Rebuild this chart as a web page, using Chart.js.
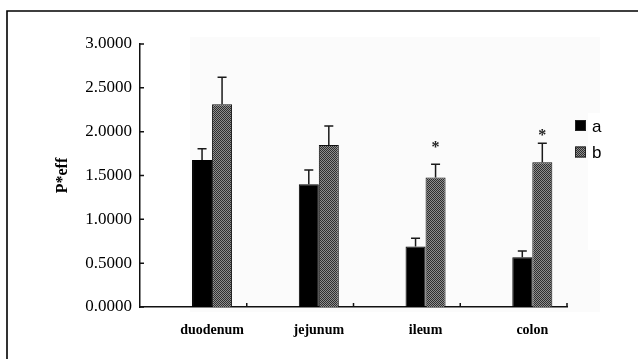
<!DOCTYPE html>
<html><head><meta charset="utf-8">
<script src="https://cdn.jsdelivr.net/npm/chart.js@4.4.1/dist/chart.umd.min.js"></script>
<style>html,body{margin:0;padding:0;background:#fff;}#wrap{width:638px;height:359px;position:relative}</style>
</head><body><div id="wrap"><canvas id="c" width="638" height="359"></canvas></div>
<script>
const categories = ['duodenum', 'jejunum', 'ileum', 'colon'];
const seriesNames = ['a', 'b'];
const valuesA = [1.678, 1.400, 0.689, 0.567];
const valuesB = [2.314, 1.849, 1.476, 1.652];
const errorsA = [0.126, 0.164, 0.095, 0.072];
const errorsB = [0.308, 0.217, 0.153, 0.217];
const starLevels = [null, null, 1.86, 2.0];
const yTicks = [0, 0.5, 1.0, 1.5, 2.0, 2.5, 3.0];

const canvas = document.getElementById('c');
const mainCtx = canvas.getContext('2d');
function makePattern() {
  const p = document.createElement('canvas');
  p.width = 2; p.height = 2;
  const g = p.getContext('2d');
  g.fillStyle = '#8e8e8e'; g.fillRect(0, 0, 2, 2);
  g.fillStyle = '#2e2e2e'; g.fillRect(0, 0, 1, 1); g.fillRect(1, 1, 1, 1);
  return mainCtx.createPattern(p, 'repeat');
}
const hatch = makePattern();
const SHIFT_FRAC = 0.175;

const framePlugin = {
  id: 'frame',
  beforeDraw(chart) {
    const ctx = chart.ctx, a = chart.chartArea;
    ctx.save();
    ctx.fillStyle = '#fff';
    ctx.fillRect(0, 0, chart.width, chart.height);
    ctx.fillStyle = '#fbfbfb';
    ctx.fillRect(a.left + 50, a.top - 7, a.right - a.left - 17, a.bottom - a.top + 12);
    ctx.fillStyle = '#fff';
    ctx.fillRect(a.right + 21, a.top + 69, 15, 137);
    ctx.strokeStyle = '#000';
    ctx.lineWidth = 1.6;
    ctx.beginPath();
    ctx.moveTo(7, chart.height);
    ctx.lineTo(7, 11);
    ctx.lineTo(chart.width, 11);
    ctx.stroke();
    ctx.restore();
  }
};

const shiftPlugin = {
  id: 'shift',
  afterDatasetsUpdate(chart) {
    const xs = chart.scales.x;
    const dx = xs.width / categories.length * SHIFT_FRAC;
    chart.data.datasets.forEach((d, i) => {
      chart.getDatasetMeta(i).data.forEach(el => { el.x += dx; });
    });
  }
};

const errPlugin = {
  id: 'err',
  afterDatasetsDraw(chart) {
    const ctx = chart.ctx, xs = chart.scales.x, ys = chart.scales.y, a = chart.chartArea;
    ctx.save();
    ctx.strokeStyle = '#1a1a1a';
    ctx.lineWidth = 1.5;
    chart.data.datasets.forEach((d, i) => {
      chart.getDatasetMeta(i).data.forEach((el, j) => {
        const y0 = ys.getPixelForValue(d.data[j]);
        const yt = ys.getPixelForValue(d.data[j] + d.errors[j]);
        ctx.beginPath();
        ctx.moveTo(el.x, y0); ctx.lineTo(el.x, yt);
        ctx.moveTo(el.x - 4.5, yt); ctx.lineTo(el.x + 4.5, yt);
        ctx.stroke();
      });
    });
    // stars
    const metaB = chart.getDatasetMeta(1);
    ctx.fillStyle = '#222';
    ctx.font = 'bold 16px "Liberation Serif"';
    ctx.textAlign = 'center';
    ctx.textBaseline = 'alphabetic';
    starLevels.forEach((lv, j) => {
      if (lv == null) return;
      ctx.fillText('*', metaB.data[j].x, ys.getPixelForValue(lv) + 8);
    });
    // inner tick marks
    ctx.strokeStyle = '#111';
    ctx.lineWidth = 1.5;
    ctx.beginPath();
    yTicks.forEach(v => {
      const y = ys.getPixelForValue(v);
      ctx.moveTo(a.left, y); ctx.lineTo(a.left + 4, y);
    });
    const step = xs.width / categories.length;
    for (let k = 1; k <= categories.length; k++) {
      const x = xs.left + k * step;
      ctx.moveTo(x, a.bottom); ctx.lineTo(x, a.bottom - 4);
    }
    ctx.stroke();
    ctx.restore();
  }
};

const legendPlugin = {
  id: 'customLegend',
  afterDraw(chart) {
    const ctx = chart.ctx;
    ctx.save();
    chart.data.datasets.forEach((d, i) => {
      const x = 575, y = 120 + i * 26.5;
      ctx.fillStyle = d.backgroundColor;
      ctx.fillRect(x, y, 11, 11);
      ctx.strokeStyle = '#222';
      ctx.lineWidth = 1;
      ctx.strokeRect(x + 0.5, y + 0.5, 10, 10);
      ctx.fillStyle = '#000';
      ctx.font = '17px "Liberation Sans"';
      ctx.textAlign = 'left';
      ctx.textBaseline = 'alphabetic';
      ctx.fillText(d.label, x + 17, y + 11.5);
    });
    ctx.restore();
  }
};

new Chart(canvas, {
  type: 'bar',
  data: {
    labels: categories,
    datasets: [
      { label: seriesNames[0], data: valuesA, errors: errorsA, backgroundColor: '#000', borderColor: '#000', borderWidth: 1 },
      { label: seriesNames[1], data: valuesB, errors: errorsB, backgroundColor: hatch, borderColor: '#111', borderWidth: 1 }
    ]
  },
  options: {
    responsive: false,
    animation: false,
    devicePixelRatio: 1,
    layout: { padding: { left: 0, right: 71, top: 44, bottom: 0 } },
    datasets: { bar: { categoryPercentage: 0.375, barPercentage: 1 } },
    plugins: { legend: { display: false }, tooltip: { enabled: false } },
    scales: {
      x: {
        grid: { display: false, drawTicks: false },
        border: { display: true, color: '#111', width: 1.5 },
        ticks: {
          font: { family: 'Liberation Serif', size: 14, weight: 'bold' },
          color: '#000', padding: 15, labelOffset: 18.7, maxRotation: 0, autoSkip: false
        },
        afterFit(s) { s.height = 52; }
      },
      y: {
        min: 0, max: 3,
        afterBuildTicks(s) { s.ticks = yTicks.map(v => ({ value: v })); },
        ticks: {
          callback: v => Number(v).toFixed(4),
          font: { family: 'Liberation Serif', size: 17 },
          color: '#000', padding: 8
        },
        grid: { display: false, drawTicks: false },
        border: { display: true, color: '#111', width: 1.5 },
        title: {
          display: true, text: 'P*eff', color: '#000',
          font: { family: 'Liberation Serif', size: 16, weight: 'bold' },
          padding: { top: 53, bottom: 0 }
        },
        afterFit(s) { s.width = 140; }
      }
    }
  },
  plugins: [framePlugin, shiftPlugin, errPlugin, legendPlugin]
});
</script>
</body></html>
